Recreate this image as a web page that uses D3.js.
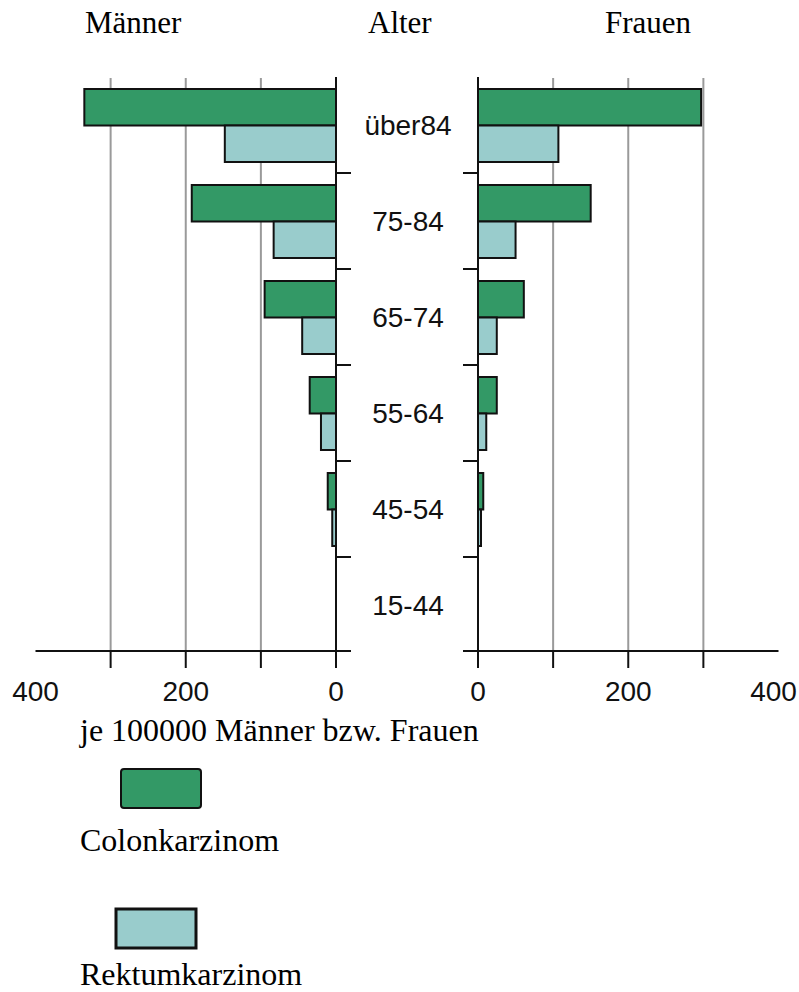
<!DOCTYPE html>
<html>
<head>
<meta charset="utf-8">
<script src="https://cdn.jsdelivr.net/npm/d3@7"></script>
<style>
  html, body { margin: 0; padding: 0; background: #fff; }
  svg { display: block; }
</style>
</head>
<body>
<svg id="chart" width="799" height="992"></svg>
<script>
// ---- Data ----
const categories = ["über84", "75-84", "65-74", "55-64", "45-54", "15-44"];
const series = ["Colonkarzinom", "Rektumkarzinom"];
const menColon = [335, 192, 95, 35, 11, 0];
const menRektum = [148, 83, 45, 20, 5, 0];
const womenColon = [297, 150, 61, 25, 7, 0];
const womenRektum = [107, 50, 25, 11, 4, 0];
const tickValues = [0, 100, 200, 300, 400];
const tickLabels = [0, 200, 400];
const titles = ["Männer", "Alter", "Frauen"];
const xTitle = "je 100000 Männer bzw. Frauen";

const colors = { "Colonkarzinom": "#339966", "Rektumkarzinom": "#99cccc" };

const svg = d3.select("#chart");
const serif = "'Liberation Serif', 'Times New Roman', serif";
const sans = "'Liberation Sans', Arial, sans-serif";

// ---- Scales ----
const y = d3.scaleBand().domain(categories).range([77, 653]);
const ySub = d3.scaleBand().domain(series).range([12, 85]);
const xLeft = d3.scaleLinear().domain([0, 400]).range([336, 35.5]);
const xRight = d3.scaleLinear().domain([0, 400]).range([478, 778.5]);
const axisY = 651;

// ---- Gridlines ----
function grid(x) {
  svg.append("g").selectAll("line")
    .data(tickValues.filter(v => v > 0 && v < 400))
    .join("line")
    .attr("x1", d => x(d)).attr("x2", d => x(d))
    .attr("y1", 78).attr("y2", axisY)
    .attr("stroke", "#9a9a9a").attr("stroke-width", 2);
}
grid(xLeft);
grid(xRight);

// ---- Bars ----
function bars(x, colonVals, rektumVals) {
  const data = [];
  categories.forEach((c, i) => {
    data.push({ cat: c, s: series[0], v: colonVals[i] });
    data.push({ cat: c, s: series[1], v: rektumVals[i] });
  });
  svg.append("g").selectAll("rect")
    .data(data.filter(d => d.v > 0))
    .join("rect")
    .attr("x", d => Math.min(x(0), x(d.v)))
    .attr("width", d => Math.abs(x(d.v) - x(0)))
    .attr("y", d => y(d.cat) + ySub(d.s))
    .attr("height", ySub.bandwidth())
    .attr("fill", d => colors[d.s])
    .attr("stroke", "#111")
    .attr("stroke-width", 2);
}
bars(xLeft, menColon, menRektum);
bars(xRight, womenColon, womenRektum);

// ---- Axes ----
function axes(x, side) {
  const g = svg.append("g");
  const x0 = x(0);
  g.append("line").attr("x1", x0).attr("x2", x0).attr("y1", 77).attr("y2", 668)
    .attr("stroke", "#111").attr("stroke-width", 2);
  const ext = side === "left" ? 15 : -15;
  g.append("line").attr("x1", x(400)).attr("x2", x0 + ext)
    .attr("y1", axisY).attr("y2", axisY)
    .attr("stroke", "#111").attr("stroke-width", 2);
  g.selectAll("line.xt").data(tickValues.filter(v => v < 400)).join("line")
    .attr("class", "xt")
    .attr("x1", d => x(d)).attr("x2", d => x(d))
    .attr("y1", axisY).attr("y2", 668)
    .attr("stroke", "#111").attr("stroke-width", 2);
  g.selectAll("text").data(tickLabels).join("text")
    .attr("x", d => x(d) + (d === 400 && side === "right" ? -5 : 0))
    .attr("y", 701)
    .attr("text-anchor", "middle")
    .attr("font-family", sans).attr("font-size", 28)
    .attr("fill", "#111")
    .text(d => d);
  g.selectAll("line.ct").data(categories.slice(1)).join("line")
    .attr("class", "ct")
    .attr("x1", x0).attr("x2", x0 + ext)
    .attr("y1", d => y(d)).attr("y2", d => y(d))
    .attr("stroke", "#111").attr("stroke-width", 2);
}
axes(xLeft, "left");
axes(xRight, "right");

// ---- Category labels ----
const midX = (xLeft(0) + xRight(0)) / 2;
svg.append("g").selectAll("text").data(categories).join("text")
  .attr("x", midX + 1)
  .attr("y", d => y(d) + y.bandwidth() / 2)
  .attr("dy", "0.35em")
  .attr("text-anchor", "middle")
  .attr("font-family", sans).attr("font-size", 28)
  .attr("fill", "#111")
  .text(d => d);

// ---- Titles ----
const titleX = [85, 368, 605];
svg.append("g").selectAll("text").data(titles).join("text")
  .attr("x", (d, i) => titleX[i]).attr("y", 33)
  .attr("font-family", serif).attr("font-size", 31)
  .attr("fill", "#000")
  .text(d => d);

svg.append("text")
  .attr("x", 80).attr("y", 741)
  .attr("font-family", serif).attr("font-size", 32)
  .attr("fill", "#000")
  .text(xTitle);

// ---- Legend ----
const legendY = { "Colonkarzinom": 769, "Rektumkarzinom": 909 };
const legendX = { "Colonkarzinom": 121, "Rektumkarzinom": 116 };
const legendTextY = { "Colonkarzinom": 851, "Rektumkarzinom": 985 };
const leg = svg.append("g");
leg.selectAll("rect").data(series).join("rect")
  .attr("x", d => legendX[d]).attr("y", d => legendY[d])
  .attr("width", 80).attr("height", 39)
  .attr("rx", d => d === series[0] ? 3 : 0)
  .attr("fill", d => colors[d])
  .attr("stroke", "#111")
  .attr("stroke-width", d => d === series[0] ? 2 : 3);
leg.selectAll("text").data(series).join("text")
  .attr("x", 80).attr("y", d => legendTextY[d])
  .attr("font-family", serif).attr("font-size", 32)
  .attr("fill", "#000")
  .text(d => d);
</script>
</body>
</html>
